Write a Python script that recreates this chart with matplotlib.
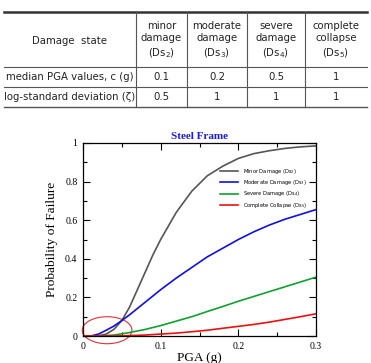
import numpy as np
import matplotlib
matplotlib.use("Agg")
import matplotlib.pyplot as plt
from matplotlib.patches import Ellipse

# ── table data ──────────────────────────────────────────────────────────
col_heads = ["Damage  state",
             "minor\ndamage\n(Ds$_2$)", "moderate\ndamage\n(Ds$_3$)",
             "severe\ndamage\n(Ds$_4$)", "complete\ncollapse\n(Ds$_5$)"]
row_labels = ["median PGA values, c (g)", "log-standard deviation (ζ)"]
median_vals = ["0.1", "0.2", "0.5", "1"]
logstd_vals = ["0.5", "1", "1", "1"]

# ── curve data ──────────────────────────────────────────────────────────
pga_minor = [0, 0.01, 0.02, 0.03, 0.04, 0.05, 0.06, 0.07, 0.08, 0.09, 0.10,
             0.12, 0.14, 0.16, 0.18, 0.20, 0.22, 0.24, 0.26, 0.28, 0.30]
p_minor = [0, 0, 0.001, 0.01, 0.035, 0.08, 0.15, 0.24, 0.33, 0.42, 0.50,
           0.64, 0.75, 0.83, 0.88, 0.92, 0.945, 0.96, 0.972, 0.98, 0.985]
pga_mod = [0, 0.01, 0.02, 0.03, 0.04, 0.05, 0.06, 0.08, 0.10, 0.12, 0.14,
           0.16, 0.18, 0.20, 0.22, 0.24, 0.26, 0.28, 0.30]
p_mod = [0, 0, 0.01, 0.03, 0.052, 0.08, 0.11, 0.175, 0.24, 0.30, 0.355,
         0.41, 0.455, 0.50, 0.54, 0.575, 0.605, 0.63, 0.655]
pga_sev = [0, 0.02, 0.04, 0.06, 0.08, 0.10, 0.12, 0.14, 0.16, 0.18, 0.20,
           0.22, 0.24, 0.26, 0.28, 0.30]
p_sev = [0, 0, 0.005, 0.018, 0.034, 0.054, 0.077, 0.10, 0.127, 0.153, 0.18,
         0.205, 0.23, 0.255, 0.28, 0.305]
pga_col = [0, 0.04, 0.06, 0.08, 0.10, 0.12, 0.14, 0.16, 0.18, 0.20, 0.22,
           0.24, 0.26, 0.28, 0.30]
p_col = [0, 0, 0.002, 0.005, 0.01, 0.015, 0.022, 0.03, 0.04, 0.05, 0.06,
         0.072, 0.086, 0.10, 0.115]

W, H = 371, 363
fig = plt.figure(figsize=(W / 100, H / 100), dpi=100)

# ── table drawn in pixel coords on an overlay axes ──────────────────────
tab = fig.add_axes([0, 0, 1, 1])
tab.set_xlim(0, W); tab.set_ylim(H, 0); tab.axis("off")
x_left, x_right = 4, 367
col_x = [4, 136, 187, 247, 305, 367]
y_top, y_head, y_r1, y_bot = 12, 67, 87, 107
tab.plot([x_left, x_right], [y_top, y_top], color="#333333", lw=1.8)
for y in (y_head, y_r1):
    tab.plot([x_left, x_right], [y, y], color="#555555", lw=0.8)
tab.plot([x_left, x_right], [y_bot, y_bot], color="#555555", lw=1.0)
for x in col_x[1:-1]:
    tab.plot([x, x], [y_top, y_bot], color="#555555", lw=0.8)

fs = 7.3
centers = [(col_x[i] + col_x[i + 1]) / 2 for i in range(5)]
for i, txt in enumerate(col_heads):
    tab.text(centers[i], (y_top + y_head) / 2 + 1, txt, ha="center", va="center",
             fontsize=fs, color="#222222", linespacing=1.25, family="DejaVu Sans")
for r, (lab, vals) in enumerate(zip(row_labels, [median_vals, logstd_vals])):
    yc = [(y_head + y_r1) / 2, (y_r1 + y_bot) / 2][r]
    tab.text(centers[0], yc, lab, ha="center", va="center", fontsize=fs,
             color="#222222", family="DejaVu Sans")
    for j, v in enumerate(vals):
        tab.text(centers[j + 1], yc, v, ha="center", va="center", fontsize=fs,
                 color="#222222", family="DejaVu Sans")

# ── fragility chart ─────────────────────────────────────────────────────
ax = fig.add_axes([83 / W, 1 - 336 / H, (316 - 83) / W, (336 - 143) / H])
ax.plot(pga_minor, p_minor, color="#555555", lw=1.2, label="Minor Damage (Ds$_2$)")
ax.plot(pga_mod, p_mod, color="#1010e0", lw=1.2, label="Moderate Damage (Ds$_3$)")
ax.plot(pga_sev, p_sev, color="#10a030", lw=1.2, label="Severe Damage (Ds$_4$)")
ax.plot(pga_col, p_col, color="#ee1010", lw=1.2, label="Complete Collapse (Ds$_5$)")

ax.add_patch(Ellipse((0.031, 0.03), 0.064, 0.14, fill=False, edgecolor="#e03030",
                     lw=0.8, clip_on=False))

ax.set_xlim(0, 0.3); ax.set_ylim(0, 1)
ax.set_xticks([0, 0.1, 0.2, 0.3]); ax.set_xticklabels(["0", "0.1", "0.2", "0.3"])
ax.set_yticks([0, 0.2, 0.4, 0.6, 0.8, 1]); ax.set_yticklabels(["0", "0.2", "0.4", "0.6", "0.8", "1"])
ax.set_xticks(np.arange(0, 0.31, 0.05), minor=True)
ax.set_yticks(np.arange(0, 1.01, 0.1), minor=True)
ax.tick_params(which="both", direction="in", top=True, right=True, width=0.8)
ax.tick_params(which="major", length=5, labelsize=7, pad=4)
ax.tick_params(which="minor", length=3)
for lab in ax.get_xticklabels() + ax.get_yticklabels():
    lab.set_family("Liberation Serif")
for s in ax.spines.values():
    s.set_linewidth(0.9)

ax.set_title("Steel Frame", color="#1a1ae6", fontsize=8, fontweight="bold",
             family="Liberation Serif", pad=3)
ax.set_xlabel("PGA (g)", fontsize=9.5, family="Liberation Serif", labelpad=1)
ax.set_ylabel("Probability of Failure", fontsize=9.6, family="Liberation Serif", labelpad=5)

ax.legend(loc="upper left", bbox_to_anchor=(0.575, 0.89), frameon=False,
          handlelength=3.6, handletextpad=0.9, labelspacing=0.45,
          borderpad=0, prop={"family": "DejaVu Sans", "size": 3.7})

fig.savefig("out.png", dpi=100)
